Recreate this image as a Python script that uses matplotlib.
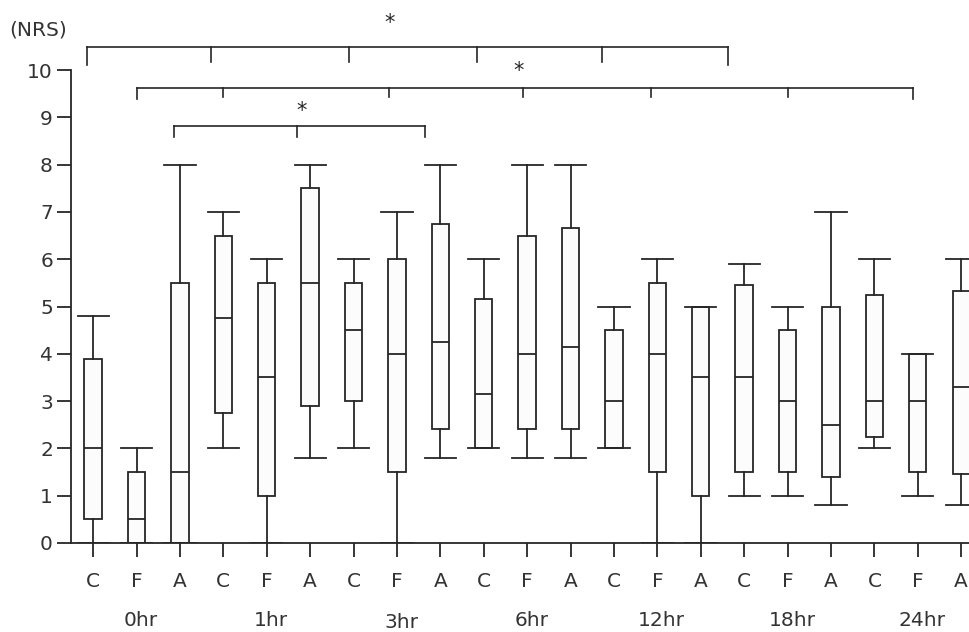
import matplotlib
matplotlib.use("Agg")
import matplotlib.pyplot as plt
from matplotlib.transforms import blended_transform_factory

# box statistics (NRS score)
groups = ["C", "F", "A"] * 7
times = ["0hr", "1hr", "3hr", "6hr", "12hr", "18hr", "24hr"]
lows = [0, 0, 0, 2, 0, 1.8, 2, 0, 1.8, 2, 1.8, 1.8, 2, 0, 0, 1.0, 1.0, 0.8, 2, 1.0, 0.8]
q1s = [0.5, 0, 0, 2.75, 1.0, 2.9, 3.0, 1.5, 2.4, 2.0, 2.4, 2.4, 2.0, 1.5, 1.0, 1.5, 1.5, 1.4, 2.25, 1.5, 1.45]
meds = [2.0, 0.5, 1.5, 4.75, 3.5, 5.5, 4.5, 4.0, 4.25, 3.15, 4.0, 4.15, 3.0, 4.0, 3.5, 3.5, 3.0, 2.5, 3.0, 3.0, 3.3]
q3s = [3.9, 1.5, 5.5, 6.5, 5.5, 7.5, 5.5, 6.0, 6.75, 5.15, 6.5, 6.65, 4.5, 5.5, 5.0, 5.45, 4.5, 5.0, 5.25, 4.0, 5.33]
highs = [4.8, 2.0, 8.0, 7.0, 6.0, 8.0, 6.0, 7.0, 8.0, 6.0, 8.0, 8.0, 5.0, 6.0, 5.0, 5.9, 5.0, 7.0, 6.0, 4.0, 6.0]

# significance brackets: (level, end drop, inner drop, x of ends, x of inner ticks)
brackets = [
    (10.48, 0.38, 0.31, [0.86, 15.63], [3.72, 6.9, 9.85, 12.73]),
    (9.63, 0.25, 0.2, [2.0, 19.9], [4.0, 7.82, 10.9, 13.86, 17.0]),
    (8.82, 0.23, 0.23, [2.87, 8.65], [5.7]),
]
stars = [(7.84, 11.0), (10.8, 9.97), (5.8, 9.13)]

ink = "#262626"
plt.rcParams["font.family"] = "DejaVu Sans"

fig = plt.figure(figsize=(9.69, 6.32), dpi=100)
ax = fig.add_axes([71 / 969, (632 - 543) / 632, 1 - 71 / 969, 473 / 632])

positions = list(range(1, len(groups) + 1))
stats = []
for i in range(len(groups)):
    stats.append({"whislo": lows[i], "q1": q1s[i], "med": meds[i],
                  "q3": q3s[i], "whishi": highs[i], "fliers": []})

line = dict(color=ink, linewidth=1.3)
ax.bxp(stats, positions=positions, widths=0.4, capwidths=0.72,
       patch_artist=True, showfliers=False,
       boxprops=dict(facecolor="#fcfcfc", edgecolor=ink, linewidth=1.3),
       medianprops=line, whiskerprops=line, capprops=line)

ax.set_xlim(0.49, 21.18)
ax.set_ylim(0, 10)
ax.spines["top"].set_visible(False)
ax.spines["right"].set_visible(False)
for s in ["left", "bottom"]:
    ax.spines[s].set_color(ink)
    ax.spines[s].set_linewidth(1.3)

ax.set_yticks(range(11))
ax.set_xticks(positions)
ax.set_xticklabels(groups)
ax.tick_params(axis="both", length=10, width=1.3, color=ink,
               labelsize=14.5, labelcolor="#333333")
ax.tick_params(axis="x", pad=11)
ax.tick_params(axis="y", pad=3)

# time labels under the F of each group
tr = blended_transform_factory(ax.transData, fig.transFigure)
for k, t in enumerate(times):
    yy = 10 / 632 if t == "3hr" else 12 / 632
    ax.text(positions[3 * k + 1] + 0.1, yy, t, transform=tr, ha="center",
            va="center", fontsize=14.5, color="#333333", clip_on=False)

for level, end_drop, mid_drop, ends, inner in brackets:
    ax.plot(ends, [level, level], color=ink, lw=1.2, clip_on=False)
    for x in ends:
        ax.plot([x, x], [level, level - end_drop], color=ink, lw=1.2, clip_on=False)
    for x in inner:
        ax.plot([x, x], [level, level - mid_drop], color=ink, lw=1.2, clip_on=False)
for x, y in stars:
    ax.text(x, y, "*", ha="center", va="center", fontsize=15, color=ink, clip_on=False)

fig.text(9 / 969, (632 - 30) / 632, "(NRS)", ha="left", va="center",
         fontsize=14.5, color="#333333")

fig.savefig("out.png", dpi=100)
